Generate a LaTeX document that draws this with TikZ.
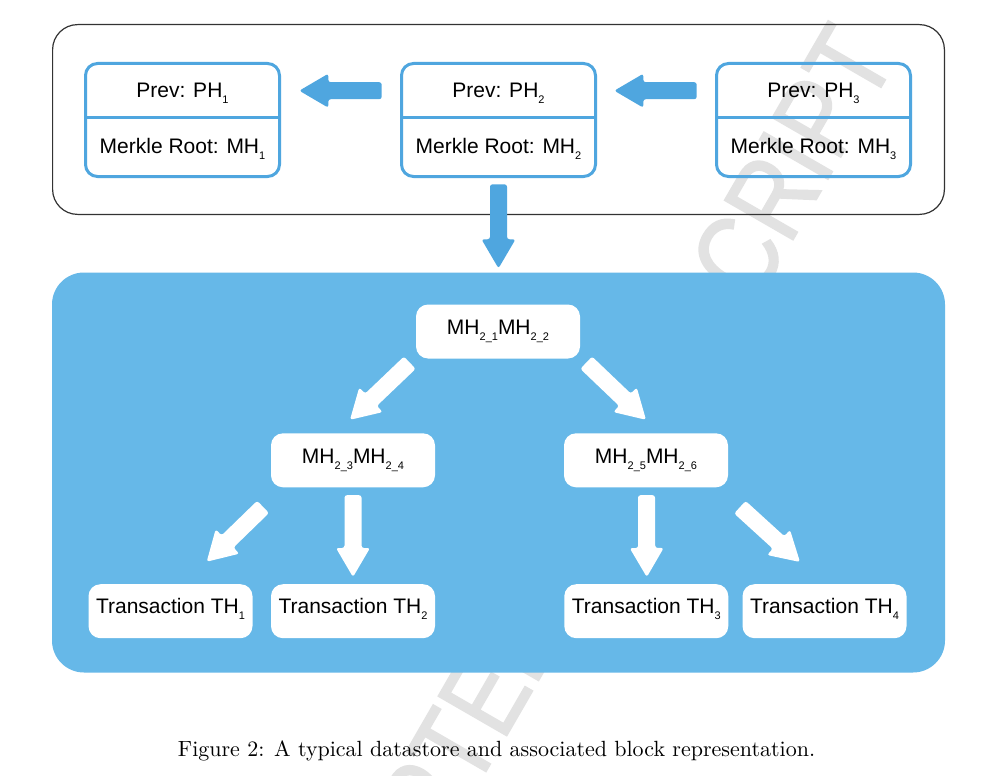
\documentclass[tikz,border=0pt]{standalone}
\usepackage{fontspec}
\newfontfamily\diagfont{Liberation Sans}
\newfontfamily\wmfont{Liberation Sans}[FakeStretch=0.83,FakeBold=1.2]
\newfontfamily\capfont{lmroman10-regular.otf}
\usetikzlibrary{calc}
\definecolor{bord}{HTML}{4FA6DF}
\definecolor{panelc}{HTML}{66B8E8}
\definecolor{wmc}{gray}{0.885}
\definecolor{framec}{gray}{0.2}
\newcommand\mysub[1]{\raisebox{-6pt}{\fontsize{11}{11}\selectfont #1}}
\newcommand\fatarrow[3]{%
  \coordinate (fah) at ($(#2)!29pt!(#1)$);
  \fill[#3, rounded corners=2.5pt]
    ($(#1)!8.5pt!90:(#2)$) -- ($(fah)!8.5pt!90:(#2)$) -- ($(fah)!17pt!90:(#2)$)
    -- (#2) -- ($(fah)!17pt!-90:(#2)$) -- ($(fah)!8.5pt!-90:(#2)$)
    -- ($(#1)!8.5pt!-90:(#2)$) -- cycle;}
\tikzset{
  hashbox/.style={draw=bord, line width=3pt, rounded corners=12pt,
    minimum width=194pt, minimum height=113pt, inner sep=0pt},
  wbox/.style={fill=white, rounded corners=12pt, minimum width=164pt,
    minimum height=54pt, inner sep=0pt, text height=15pt, text depth=9pt,
    font=\diagfont\fontsize{21}{24}\selectfont},
  leafbox/.style={wbox, text depth=11pt},
  lbl/.style={font=\diagfont\fontsize{21}{24}\selectfont, inner sep=0pt, anchor=base},
  divider/.style={draw=bord, line width=3pt},
}
\begin{document}
\begin{tikzpicture}[x=1pt,y=-1pt]
\useasboundingbox (0,0) rectangle (991,776);
\fill[white] (0,0) rectangle (991,776);
% watermark
\begin{scope}
\clip (0,0) rectangle (991,776);
\node[rotate=60, anchor=base east, inner sep=0pt, text=wmc,
      font=\wmfont\fontsize{115}{115}\selectfont] (wmark) at (898,58) {ACCEPTED MANUSCRIPT};
\end{scope}
% top frame
\node[draw=framec, line width=1.2pt, rounded corners=25pt, minimum width=891.8pt,
      minimum height=189.8pt, inner sep=0pt] (chain) at (498.5,119.5) {};
% block headers
\foreach \i/\cx in {1/182.5, 2/498.5, 3/813.5} {
  \node[hashbox] (b\i) at (\cx,120) {};
  \draw[divider] (b\i.west |- 0,117) -- (b\i.east |- 0,117);
  \node[lbl] (p\i) at (\cx,97.5) {Prev: PH\mysub{\i}};
  \node[lbl] (m\i) at (\cx,153.5) {Merkle Root: MH\mysub{\i}};
}
% blue panel
\node[fill=panelc, rounded corners=32pt, minimum width=893pt, minimum height=400pt,
      inner sep=0pt] (panel) at (498.5,472.5) {};
% tree nodes
\node[wbox] (root) at (498,331.5) {MH\mysub{2\_1}MH\mysub{2\_2}};
\node[wbox] (lmid) at (353,460.3) {MH\mysub{2\_3}MH\mysub{2\_4}};
\node[wbox] (rmid) at (646,460.3) {MH\mysub{2\_5}MH\mysub{2\_6}};
\node[leafbox] (t1) at (170.5,611.2) {Transaction TH\mysub{1}};
\node[leafbox] (t2) at (353,611.2) {Transaction TH\mysub{2}};
\node[leafbox] (t3) at (646.3,611.2) {Transaction TH\mysub{3}};
\node[leafbox] (t4) at (824.5,611.2) {Transaction TH\mysub{4}};
% blue arrows
\coordinate (a1s) at ([shift={(-18.3,-29.3)}]b2.west);
\coordinate (a1e) at ([shift={(18.3,-29.3)}]b1.east);
\coordinate (a2s) at ([shift={(-18.3,-29.3)}]b3.west);
\coordinate (a2e) at ([shift={(17.3,-29.3)}]b2.east);
\coordinate (a3s) at ([shift={(0,6.3)}]b2.south);
\coordinate (a3e) at ([shift={(0,-4)}]panel.north);
\fatarrow{a1s}{a1e}{bord}
\fatarrow{a2s}{a2e}{bord}
\fatarrow{a3s}{a3e}{bord}
% white arrows
\coordinate (w1s) at ([shift={(-6,4)}]root.south west);
\coordinate (w1e) at ([shift={(-3,-13.3)}]lmid.north);
\coordinate (w2s) at ([shift={(6,4)}]root.south east);
\coordinate (w2e) at ([shift={(0,-13.3)}]rmid.north);
\coordinate (w3s) at ([shift={(-7.7,19.4)}]lmid.south west);
\coordinate (w3e) at ([shift={(36.2,-22.3)}]t1.north);
\coordinate (w4s) at ([shift={(0,7.7)}]lmid.south);
\coordinate (w4e) at ([shift={(0,-7)}]t2.north);
\coordinate (w5s) at ([shift={(0.5,7.7)}]rmid.south);
\coordinate (w5e) at ([shift={(0.5,-7)}]t3.north);
\coordinate (w6s) at ([shift={(11.7,19.7)}]rmid.south east);
\coordinate (w6e) at ([shift={(-24.5,-22)}]t4.north);
\fatarrow{w1s}{w1e}{white}
\fatarrow{w2s}{w2e}{white}
\fatarrow{w3s}{w3e}{white}
\fatarrow{w4s}{w4e}{white}
\fatarrow{w5s}{w5e}{white}
\fatarrow{w6s}{w6e}{white}
% caption
\node[anchor=base, inner sep=0pt, font=\capfont\fontsize{22}{26}\selectfont] (cap) at (496.5,756)
  {Figure 2: A typical datastore and associated block representation.};
\end{tikzpicture}
\end{document}
